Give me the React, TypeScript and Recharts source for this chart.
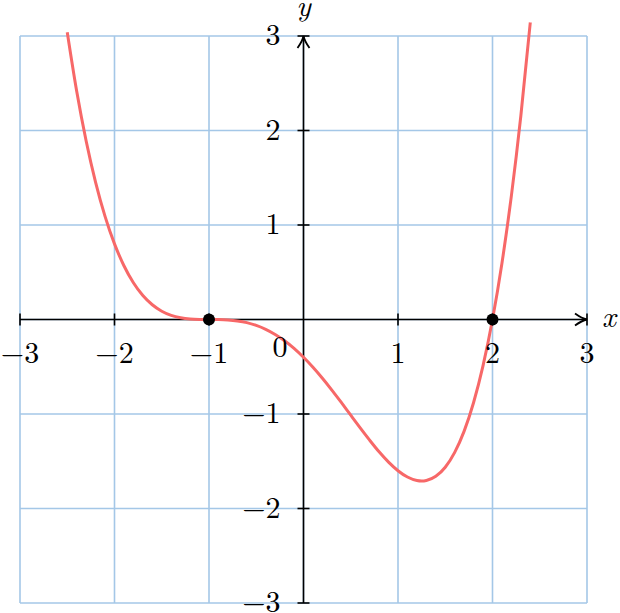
import React from "react";
import { ComposedChart, Line, Scatter, XAxis, YAxis, ReferenceLine } from "recharts";

// Curve samples
const CURVE_X = [-2.5, -2.4, -2.3, -2.2, -2.1, -2.0, -1.9, -1.8, -1.7, -1.6, -1.5, -1.4, -1.3, -1.2, -1.1, -1.0, -0.9, -0.8, -0.7, -0.6, -0.5, -0.4, -0.3, -0.2, -0.1, 0.0, 0.1, 0.2, 0.3, 0.4, 0.5, 0.6, 0.7, 0.8, 0.9, 1.0, 1.1, 1.2, 1.25, 1.3, 1.4, 1.5, 1.6, 1.7, 1.8, 1.9, 2.0, 2.1, 2.2, 2.3, 2.4];
const CURVE_Y = [3.04, 2.415, 1.889, 1.452, 1.091, 0.8, 0.569, 0.389, 0.254, 0.156, 0.088, 0.044, 0.018, 0.005, 0.001, 0.0, -0.001, -0.005, -0.015, -0.033, -0.063, -0.104, -0.158, -0.225, -0.306, -0.4, -0.506, -0.622, -0.747, -0.878, -1.013, -1.147, -1.277, -1.4, -1.509, -1.6, -1.667, -1.704, -1.709, -1.703, -1.659, -1.563, -1.406, -1.181, -0.878, -0.488, 0.0, 0.596, 1.311, 2.156, 3.144];

const ROOTS_X = [-1, 2];
const ROOTS_Y = [0, 0];

const GRID_VALUES = [-3, -2, -1, 0, 1, 2, 3];
const X_TICKS = [-3, -2, -1, 1, 2, 3];
const X_LABELS = ["\u22123", "\u22122", "\u22121", "1", "2", "3"];
const Y_TICKS = [-3, -2, -1, 1, 2, 3];
const Y_LABELS = ["\u22123", "\u22122", "\u22121", "1", "2", "3"];
const ORIGIN_LABEL = "0";
const X_NAME = "x";
const Y_NAME = "y";

const curveData = CURVE_X.map((x, i) => ({ x, y: CURVE_Y[i] }));
const rootData = ROOTS_X.map((x, i) => ({ x, y: ROOTS_Y[i] }));
const xTickData = X_TICKS.map((x, i) => ({ x, y: 0, label: X_LABELS[i] }));
const yTickData = Y_TICKS.map((y, i) => ({ x: 0, y, label: Y_LABELS[i] }));
const originData = [{ x: 0, y: 0, label: ORIGIN_LABEL }];

const FONT = "'Latin Modern Roman', 'Liberation Serif', 'DejaVu Serif', serif";
const FS = 30;
const GRID_COLOR = "#a4c7e7";
const CURVE_COLOR = "#f76868";

const XTick = (p: any) => (
  <g>
    <line x1={p.cx} y1={p.cy - 6} x2={p.cx} y2={p.cy + 6} stroke="#000" strokeWidth={1.6} />
    <text x={p.cx} y={p.cy + 43} textAnchor="middle" fontFamily={FONT} fontSize={FS} fill="#000">
      {p.payload.label}
    </text>
  </g>
);

const YTick = (p: any) => (
  <g>
    <line x1={p.cx - 6} y1={p.cy} x2={p.cx + 6} y2={p.cy} stroke="#000" strokeWidth={1.6} />
    <text x={p.cx - 23} y={p.cy + 9} textAnchor="end" fontFamily={FONT} fontSize={FS} fill="#000">
      {p.payload.label}
    </text>
  </g>
);

const OriginLabel = (p: any) => (
  <text x={p.cx - 16} y={p.cy + 37} textAnchor="end" fontFamily={FONT} fontSize={FS} fill="#000">
    {p.payload.label}
  </text>
);

const RootDot = (p: any) => <circle cx={p.cx} cy={p.cy} r={6} fill="#000" />;

const XArrow = (p: any) => {
  const { x1, y1, x2, y2 } = p;
  return (
    <g>
      <line x1={x1} y1={y1} x2={x2} y2={y2} stroke="#000" strokeWidth={1.6} />
      <path
        d={`M ${x2 - 12} ${y2 - 6} Q ${x2 - 5} ${y2 - 1} ${x2} ${y2} Q ${x2 - 5} ${y2 + 1} ${x2 - 12} ${y2 + 6}`}
        stroke="#000"
        strokeWidth={1.8}
        fill="none"
      />
      <text x={x2 + 15} y={y2 + 7} fontFamily={FONT} fontStyle="italic" fontSize={FS} fill="#000">
        {X_NAME}
      </text>
    </g>
  );
};

const YArrow = (p: any) => {
  const { x1, y1, x2, y2 } = p;
  const topY = Math.min(y1, y2);
  const botY = Math.max(y1, y2);
  return (
    <g>
      <line x1={x1} y1={botY} x2={x2} y2={topY} stroke="#000" strokeWidth={1.6} />
      <path
        d={`M ${x1 - 6} ${topY + 12} Q ${x1 - 1} ${topY + 5} ${x1} ${topY} Q ${x1 + 1} ${topY + 5} ${x1 + 6} ${topY + 12}`}
        stroke="#000"
        strokeWidth={1.8}
        fill="none"
      />
      <text x={x1} y={topY - 20} textAnchor="middle" fontFamily={FONT} fontStyle="italic" fontSize={FS} fill="#000">
        {Y_NAME}
      </text>
    </g>
  );
};

export default function App() {
  return (
    <div style={{ position: "absolute", left: 0, top: 0 }}>
      <ComposedChart
        width={620}
        height={613}
        data={curveData}
        margin={{ top: 17.1, right: 33, bottom: 10, left: 20 }}
      >
        <XAxis type="number" dataKey="x" domain={[-3, 3]} hide height={0} />
        <YAxis type="number" dataKey="y" domain={[-3, 3.2]} hide width={0} />
        {GRID_VALUES.map((v) => (
          <ReferenceLine
            key={`v${v}`}
            segment={[{ x: v, y: -3 }, { x: v, y: 3 }]}
            stroke={GRID_COLOR}
            strokeWidth={1.6}
          />
        ))}
        {GRID_VALUES.map((v) => (
          <ReferenceLine
            key={`h${v}`}
            segment={[{ x: -3, y: v }, { x: 3, y: v }]}
            stroke={GRID_COLOR}
            strokeWidth={1.6}
          />
        ))}
        <ReferenceLine segment={[{ x: -3, y: 0 }, { x: 3, y: 0 }]} shape={XArrow} />
        <ReferenceLine segment={[{ x: 0, y: -3 }, { x: 0, y: 3 }]} shape={YArrow} />
        <Scatter data={xTickData} dataKey="y" shape={XTick} isAnimationActive={false} />
        <Scatter data={yTickData} dataKey="y" shape={YTick} isAnimationActive={false} />
        <Scatter data={originData} dataKey="y" shape={OriginLabel} isAnimationActive={false} />
        <Line
          type="monotone"
          dataKey="y"
          stroke={CURVE_COLOR}
          strokeWidth={3}
          dot={false}
          activeDot={false}
          isAnimationActive={false}
        />
        <Scatter data={rootData} dataKey="y" shape={RootDot} isAnimationActive={false} />
      </ComposedChart>
    </div>
  );
}
